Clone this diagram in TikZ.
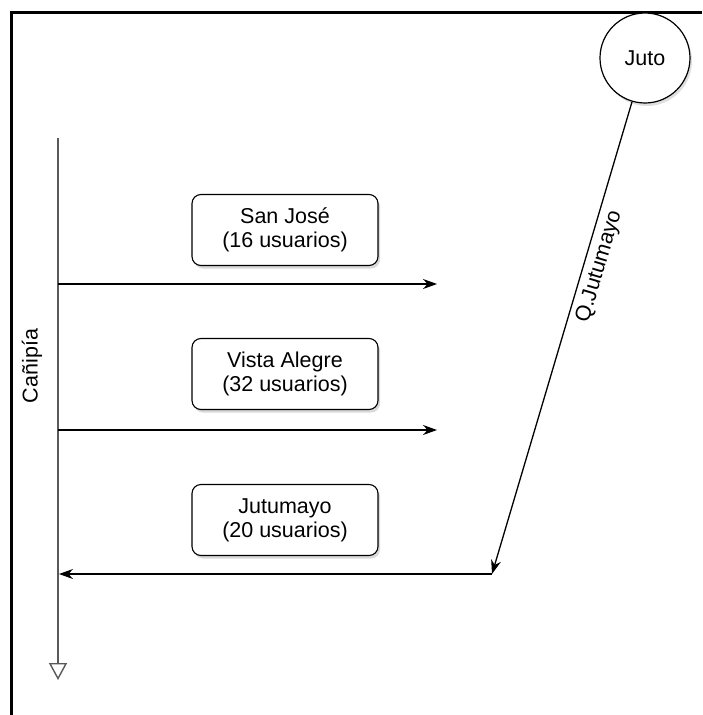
\documentclass[tikz,border=0pt]{standalone}
\usepackage{fontspec}
\setmainfont{Liberation Sans}
\usetikzlibrary{arrows.meta}
\usetikzlibrary{shadows}

\begin{document}
\begin{tikzpicture}[x=1pt,y=-1pt,>=Stealth,
    letra/.style={font=\fontsize{21.5}{24}\selectfont},
    caja/.style={draw,rounded corners=9pt,line width=1.1pt,fill=white,
      minimum width=186pt,minimum height=71pt,align=center,letra,
      drop shadow={shadow xshift=2pt,shadow yshift=-3pt,opacity=0.3}},
    flecha/.style={->,line width=1.3pt,>={Stealth[length=14pt,width=10pt]}}]
  \useasboundingbox (0,0) rectangle (702,715);
  \draw[line width=3pt] (11,715)--(11,12)--(702,12);
  % rio Canipia
  \coordinate (cTop) at (58,138);
  \coordinate (cBot) at (58,680);
  \draw[line width=2pt,gray!70!black,-{Triangle[open,length=17pt,width=18pt,line width=1.4pt]}] (cTop)--(cBot);
  \node[rotate=90,letra] (canipia) at (32,366) {Cañipía};
  % toma Juto
  \node[circle,draw,line width=1.2pt,fill=white,minimum size=90pt,letra,
    drop shadow={shadow xshift=2pt,shadow yshift=-3pt,opacity=0.25}] (juto) at (645,58) {Juto};
  \coordinate (esq) at (492,574);
  \coordinate (llega) at (59,574);
  \draw[flecha] (juto)--(esq)
    node[sloped,pos=0.34,below=2pt,letra] {Q.Jutumayo};
  \draw[flecha] (esq)--(llega);
  % derivaciones
  \coordinate (s1) at (58,284);
  \coordinate (e1) at (437,284);
  \coordinate (s2) at (58,430);
  \coordinate (e2) at (437,430);
  \draw[flecha] (s1)--(e1);
  \draw[flecha] (s2)--(e2);
  \node[caja] (sanjose) at (285,230) {San José\\(16 usuarios)};
  \node[caja] (vistaalegre) at (285,374) {Vista Alegre\\(32 usuarios)};
  \node[caja] (jutumayo) at (285,520) {Jutumayo\\(20 usuarios)};
\end{tikzpicture}
\end{document}
